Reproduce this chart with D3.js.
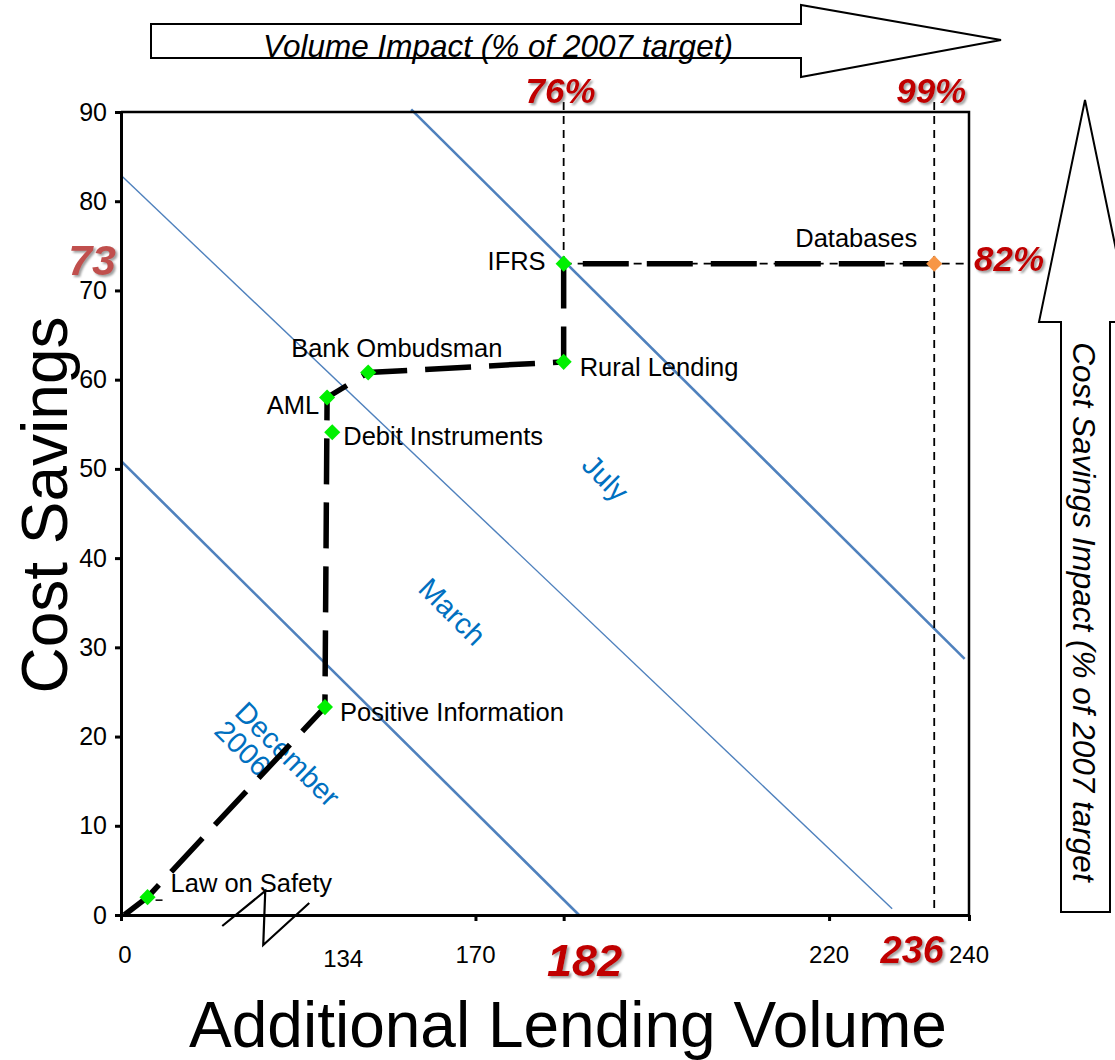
<!DOCTYPE html>
<html>
<head>
<meta charset="utf-8">
<script src="https://cdn.jsdelivr.net/npm/d3@7"></script>
<style>
  html, body { margin: 0; padding: 0; background: #fff; }
  svg { display: block; font-family: "Liberation Sans", Arial, sans-serif; }
</style>
</head>
<body>
<svg id="chart" width="1115" height="1060"></svg>
<script>
// ---- Data -------------------------------------------------------------
const projects      = ["Law on Safety", "Positive Information", "AML", "Debit Instruments",
                       "Bank Ombudsman", "Rural Lending", "IFRS", "Databases"];
const lendingVolume = [16, 123, 124.3, 127.4, 140.8, 182, 182, 236];
const costSavings   = [2, 23.3, 58, 54.1, 60.8, 62, 73, 73];

// order in which the reform path runs, starting at the origin
const pathStart = [2, 0];
const pathOrder = ["Law on Safety", "Positive Information", "AML", "Bank Ombudsman",
                   "Rural Lending", "IFRS", "Databases"];

// timeline iso-lines (start / end in data units)
const isoNames = ["December 2006", "March", "July"];
const isoStart = [[0, 50.9], [0, 82.9], [152.5, 90.3]];
const isoEnd   = [[184.2, 0], [229.6, 0.7], [239.5, 28.7]];
const isoLabelAt = [[95, 17.0], [163.7, 34], [188, 49]];

// axis values
const yTicks       = [0, 10, 20, 30, 40, 50, 60, 70, 80, 90];
const xTickMarks   = [0, 170, 182, 220, 240];
const xTickLabels  = [0, 134, 170, 220, 240];
const xBreakValue  = 87;

// targets reached
const volumeReached  = [182, 236];
const volumePct      = ["76%", "99%"];
const savingsReached = 73;
const savingsPct     = "82%";

// broken x-axis: value stops and their share of the axis length
const xStops    = [0, 134, 170, 182, 220, 236, 240];
const xStopFrac = [0, 0.262, 0.418, 0.522, 0.835, 0.959, 1];

// ---- Layout -----------------------------------------------------------
const svg = d3.select("#chart");
const plot = { left: 121, right: 969, top: 112, bottom: 915 };
const pw = plot.right - plot.left;

const x = d3.scaleLinear().domain(xStops).range(xStopFrac.map(f => plot.left + f * pw));
const y = d3.scaleLinear().domain([0, 90]).range([plot.bottom, plot.top]);

const defs = svg.append("defs");
const shadow = defs.append("filter").attr("id", "shadow")
  .attr("x", "-20%").attr("y", "-20%").attr("width", "150%").attr("height", "150%");
shadow.append("feDropShadow").attr("dx", 2).attr("dy", 2).attr("stdDeviation", 1.2)
  .attr("flood-color", "#777").attr("flood-opacity", 0.7);

// ---- Big direction arrows ---------------------------------------------
svg.append("path")
  .attr("d", "M151,24 L801,24 L801,5 L1001,40 L801,77 L801,58 L151,58 Z")
  .attr("fill", "#fff").attr("stroke", "#000").attr("stroke-width", 2);
svg.append("text")
  .attr("x", 498).attr("y", 57)
  .attr("text-anchor", "middle")
  .attr("font-size", 31.5).attr("font-style", "italic")
  .text("Volume Impact (% of 2007 target)");

svg.append("path")
  .attr("d", "M1061,912 L1061,322 L1039,322 L1085,100 L1131,322 L1110,322 L1110,912 Z")
  .attr("fill", "#fff").attr("stroke", "#000").attr("stroke-width", 2);
svg.append("text")
  .attr("transform", "translate(1073,612) rotate(90)")
  .attr("text-anchor", "middle")
  .attr("font-size", 31.5).attr("font-style", "italic")
  .text("Cost Savings Impact (% of 2007 target");

// ---- Timeline iso-lines -----------------------------------------------
const line = d3.line().x(d => x(d[0])).y(d => y(d[1]));
const isoWidth = [2.6, 1.4, 2.6];
isoNames.forEach((name, i) => {
  svg.append("path")
    .attr("d", line([isoStart[i], isoEnd[i]]))
    .attr("fill", "none").attr("stroke", "#4f81bd").attr("stroke-width", isoWidth[i]);
});

// ---- Reference lines for reached targets ------------------------------
const refStyle = sel => sel.attr("stroke", "#000").attr("stroke-width", 1.8)
  .attr("stroke-dasharray", "8,6").attr("fill", "none");
svg.append("line").call(refStyle)
  .attr("x1", x(volumeReached[0])).attr("x2", x(volumeReached[0]))
  .attr("y1", y(90) - 10).attr("y2", y(savingsReached));
svg.append("line").call(refStyle)
  .attr("x1", x(volumeReached[1])).attr("x2", x(volumeReached[1]))
  .attr("y1", y(90) - 10).attr("y2", y(0));
svg.append("line").call(refStyle)
  .attr("x1", x(volumeReached[0])).attr("x2", x(240))
  .attr("y1", y(savingsReached)).attr("y2", y(savingsReached));

// ---- Axes and frame ---------------------------------------------------
const yAxis = svg.append("g")
  .attr("transform", `translate(${plot.left},0)`)
  .call(d3.axisLeft(y).tickValues(yTicks).tickSize(6).tickSizeOuter(0).tickPadding(8));
yAxis.selectAll("text").attr("font-size", 25).attr("fill", "#000")
  .attr("font-family", "'Liberation Sans', Arial, sans-serif");

const xAxis = svg.append("g")
  .attr("transform", `translate(0,${plot.bottom})`)
  .call(d3.axisBottom(x).tickValues(xTickMarks).tickSize(6).tickSizeOuter(0).tickFormat(""));

[yAxis, xAxis].forEach(g => {
  g.selectAll("path,line").attr("stroke", "#000").attr("stroke-width", 3);
});

svg.append("path")
  .attr("d", `M${x(0)},${y(90)} L${x(240)},${y(90)} L${x(240)},${y(0)}`)
  .attr("fill", "none").attr("stroke", "#000").attr("stroke-width", 2.5);

svg.selectAll("text.xtick").data(xTickLabels).join("text")
  .attr("class", "xtick")
  .attr("x", d => x(d) + (d === 0 ? 4 : 0))
  .attr("y", d => plot.bottom + (d === 134 ? 52 : 48))
  .attr("text-anchor", "middle").attr("font-size", 24)
  .text(d => d);

// axis break mark
const bx = x(xBreakValue), by = plot.bottom;
svg.append("path")
  .attr("d", `M${bx - 43},${by + 11} L${bx},${by - 24} L${bx - 2},${by + 30} L${bx + 44},${by - 12}`)
  .attr("fill", "none").attr("stroke", "#000").attr("stroke-width", 2.2);

// axis titles
svg.append("text")
  .attr("x", 568).attr("y", 1047)
  .attr("text-anchor", "middle").attr("font-size", 64)
  .text("Additional Lending Volume");
svg.append("text")
  .attr("transform", "translate(67,505) rotate(-90)")
  .attr("text-anchor", "middle").attr("font-size", 64)
  .text("Cost Savings");

// ---- Iso-line labels --------------------------------------------------
isoNames.forEach((name, i) => {
  const [lx, ly] = isoLabelAt[i];
  const t = svg.append("text")
    .attr("transform", `translate(${x(lx)},${y(ly)}) rotate(45)`)
    .attr("text-anchor", "middle").attr("font-size", 29).attr("fill", "#0070c0");
  const parts = name.split(" ");
  if (parts.length > 1) {
    t.append("tspan").attr("x", 0).attr("dy", "-0.1em").text(parts[0]);
    t.append("tspan").attr("x", -36).attr("dy", "0.95em").text(parts[1]);
  } else {
    t.attr("dy", "0.35em").text(name);
  }
});

// ---- Reform path ------------------------------------------------------
const byName = new Map(projects.map((p, i) => [p, [lendingVolume[i], costSavings[i]]]));
const pathPts = [pathStart, ...pathOrder.map(n => byName.get(n))];
svg.append("path")
  .attr("d", line(pathPts))
  .attr("fill", "none").attr("stroke", "#000").attr("stroke-width", 5.5)
  .attr("stroke-dasharray", "46,18");

// small leader tick next to the first project
const law = byName.get("Law on Safety");
svg.append("line")
  .attr("x1", x(law[0]) + 8).attr("x2", x(law[0]) + 15)
  .attr("y1", y(law[1]) + 3).attr("y2", y(law[1]) + 3)
  .attr("stroke", "#000").attr("stroke-width", 1.5);

// project markers
const diamond = d3.symbol(d3.symbolSquare, 130);
svg.selectAll("path.marker").data(projects).join("path")
  .attr("class", "marker")
  .attr("d", diamond)
  .attr("transform", (d, i) => `translate(${x(lendingVolume[i])},${y(costSavings[i])}) rotate(45)`)
  .attr("fill", d => d === "Databases" ? "#f79646" : "#00f000");

// project labels
const labelPos = {
  "Law on Safety":        { dx: 23,   dy: -5,  anchor: "start" },
  "Positive Information": { dx: 15,   dy: 14,  anchor: "start" },
  "AML":                  { dx: -8,   dy: 16,  anchor: "end" },
  "Debit Instruments":    { dx: 11,   dy: 13,  anchor: "start" },
  "Bank Ombudsman":       { dx: -77,  dy: -16, anchor: "start" },
  "Rural Lending":        { dx: 16,   dy: 14,  anchor: "start" },
  "IFRS":                 { dx: -18,  dy: 6,   anchor: "end" },
  "Databases":            { dx: -139, dy: -17, anchor: "start" }
};
svg.selectAll("text.proj").data(projects).join("text")
  .attr("class", "proj")
  .attr("x", (d, i) => x(lendingVolume[i]) + labelPos[d].dx)
  .attr("y", (d, i) => y(costSavings[i]) + labelPos[d].dy)
  .attr("text-anchor", d => labelPos[d].anchor)
  .attr("font-size", 25.5)
  .text(d => d);

// ---- Reached-target annotations ---------------------------------------
const red = sel => sel.attr("fill", "#c00000").attr("font-weight", "bold")
  .attr("font-style", "italic").attr("filter", "url(#shadow)");

volumeReached.forEach((v, i) => {
  svg.append("text").call(red)
    .attr("x", x(v) - 3).attr("y", y(90) - 9)
    .attr("text-anchor", "middle").attr("font-size", 35)
    .text(volumePct[i]);
});
svg.append("text").call(red)
  .attr("x", x(volumeReached[0]) + 21).attr("y", plot.bottom + 61)
  .attr("text-anchor", "middle").attr("font-size", 45)
  .text(volumeReached[0]);
svg.append("text").call(red)
  .attr("x", x(volumeReached[1]) - 22).attr("y", plot.bottom + 48)
  .attr("text-anchor", "middle").attr("font-size", 38)
  .text(volumeReached[1]);
svg.append("text").call(red)
  .attr("x", x(240) + 5).attr("y", y(savingsReached) + 7)
  .attr("text-anchor", "start").attr("font-size", 35)
  .text(savingsPct);
svg.append("text").call(red)
  .attr("fill", "#c0504d")
  .attr("x", x(0) - 5).attr("y", y(savingsReached) + 11)
  .attr("text-anchor", "end").attr("font-size", 43)
  .text(savingsReached);
</script>
</body>
</html>
